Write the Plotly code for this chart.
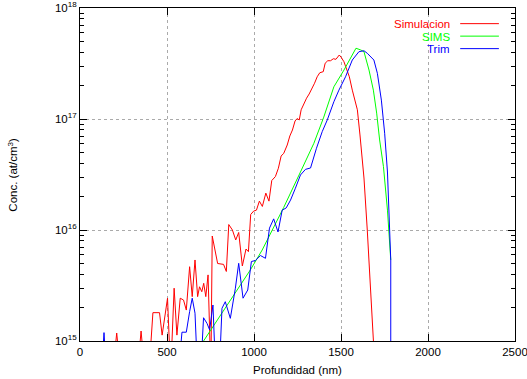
import plotly.graph_objects as go

# ---- data (depth in nm, concentration in at/cm^3) ----
sim_depth = [115, 173, 211, 248, 317, 351, 386, 419, 457, 472, 503, 521, 541, 557, 576, 595, 611,
             630, 645, 661, 676, 687, 700, 711, 723, 736, 752, 760, 791, 825, 841, 855, 876, 895,
             912, 933, 954, 968, 981, 998, 1014, 1031, 1048, 1068, 1086, 1102, 1123, 1140, 1156,
             1171, 1191, 1206, 1221, 1236, 1248, 1260, 1271, 1286, 1302, 1317, 1332, 1348, 1363,
             1378, 1398, 1409, 1424, 1440, 1456, 1471, 1490, 1501, 1517, 1532, 1548, 1565, 1578,
             1594, 1609, 1632, 1651, 1670, 1686, 1697]
sim_conc = [3e14, 3e14, 1.18e15, 3e14, 3e14, 1.23e15, 3e14, 1.80e15, 1.80e15, 1.13e15, 2.43e15, 5e14,
            2.99e15, 1.13e15, 2.43e15, 2.34e15, 1.90e15, 4.67e15, 2.51e15, 5.37e15, 2.51e15, 3.08e15,
            2.78e15, 3.31e15, 2.51e15, 3.94e15, 5e14, 8.83e15, 4.99e15, 4.9e15, 4.23e15, 1.12e16,
            1.0e16, 8.13e15, 9.5e15, 4.74e15, 6.74e15, 6.38e15, 1.38e16, 1.48e16, 1.51e16, 1.82e16,
            1.63e16, 2.15e16, 1.82e16, 2.79e16, 3.03e16, 3.60e16, 4.64e16, 4.91e16, 5.83e16, 7.03e16,
            7.96e16, 9.6e16, 1.01e17, 9.8e16, 1.21e17, 1.38e17, 1.54e17, 1.68e17, 1.85e17, 2.10e17,
            2.40e17, 2.61e17, 2.67e17, 3.18e17, 3.35e17, 3.35e17, 3.49e17, 3.45e17, 3.77e17, 3.60e17,
            3.28e17, 2.86e17, 2.40e17, 1.82e17, 1.55e17, 1.21e17, 7.18e16, 2.94e16, 1.0e16, 3.06e15,
            1.0e15, 5e14]

sims_depth = [710, 979, 1047, 1171, 1267, 1344, 1401, 1450, 1459, 1517, 1586, 1613, 1632, 1661,
              1686, 1705, 1722, 1744, 1767, 1786]
sims_conc = [1.0e15, 4.37e15, 6.6e15, 1.60e16, 3.33e16, 6.04e16, 1.04e17, 1.82e17, 1.95e17, 2.76e17,
             4.34e17, 4.19e17, 4.04e17, 2.76e17, 1.82e17, 1.13e17, 6.47e16, 3.72e16, 1.51e16, 5.37e15]

trim_depth = [115, 138, 161, 565, 586, 611, 630, 645, 661, 676, 693, 710, 730, 745, 764, 780, 800,
              816, 835, 864, 893, 912, 937, 964, 985, 1008, 1037, 1066, 1089, 1113, 1138, 1162,
              1185, 1210, 1238, 1267, 1296, 1325, 1359, 1392, 1421, 1459, 1488, 1526, 1565, 1603,
              1632, 1651, 1689, 1709, 1732, 1751, 1767, 1782, 1786, 1786]
trim_conc = [3e14, 1.19e15, 3e14, 5e14, 1.20e15, 1.20e15, 1.84e15, 2.43e15, 1.78e15, 5e14, 5e14,
             1.62e15, 1.44e15, 1.26e15, 2.11e15, 5e14, 5e14, 1.97e15, 2.26e15, 1.60e15, 2.99e15,
             5.01e15, 2.43e15, 2.88e15, 5.20e15, 5.31e15, 5.89e15, 5.56e15, 1.04e16, 1.26e16, 9.6e15,
             1.51e16, 1.58e16, 1.86e16, 2.38e16, 3.13e16, 3.52e16, 3.62e16, 5.45e16, 7.69e16, 9.8e16,
             1.43e17, 1.82e17, 2.40e17, 3.40e17, 4.04e17, 4.12e17, 3.91e17, 3.40e17, 2.58e17,
             1.48e17, 7.44e16, 3.33e16, 9.4e15, 5.37e15, 1e14]

series_names = ["Simulacion", "SIMS", "Trim"]
series_colors = ["#ff0000", "#00ff00", "#0000ff"]
x_ticks = [0, 500, 1000, 1500, 2000, 2500]
y_decades = [1e15, 1e16, 1e17, 1e18]
y_labels = ["10<sup>15</sup>", "10<sup>16</sup>", "10<sup>17</sup>", "10<sup>18</sup>"]
y_minor = [m * d for d in [1e15, 1e16, 1e17] for m in range(2, 10)]

FONT = "Liberation Sans, Arial, sans-serif"

fig = go.Figure()
for name, xs, ys, col in zip(series_names, [sim_depth, sims_depth, trim_depth],
                             [sim_conc, sims_conc, trim_conc], series_colors):
    fig.add_trace(go.Scatter(x=xs, y=ys, mode="lines", name=name,
                             line=dict(color=col, width=1), showlegend=False))

# manual gnuplot-style legend (text, then sample line on the right)
for i, (name, col) in enumerate(zip(series_names, series_colors)):
    yp = 0.953 - i * 0.0375
    fig.add_annotation(xref="paper", yref="paper", x=0.856, y=yp, text=name,
                       showarrow=False, xanchor="right", yanchor="middle", height=11,
                       font=dict(family=FONT, size=11.5, color=col))
    fig.add_shape(type="line", xref="paper", yref="paper", x0=0.874, x1=0.963, y0=yp, y1=yp,
                  line=dict(color=col, width=1))

# axis titles
fig.add_annotation(xref="paper", yref="paper", x=0.499, y=-0.087, text="Profundidad (nm)",
                   showarrow=False, xanchor="center", yanchor="middle",
                   font=dict(family=FONT, size=11.5, color="black"))
fig.add_annotation(xref="paper", yref="paper", x=-0.156, y=0.5, text="Conc. (at/cm<sup>3</sup>)",
                   showarrow=False, xanchor="center", yanchor="middle", textangle=-90,
                   font=dict(family=FONT, size=11.5, color="black"))

axis_common = dict(showline=True, linecolor="black", linewidth=1, mirror="ticks",
                   ticks="inside", tickcolor="black", showgrid=True, gridcolor="#aaaaaa",
                   griddash="dot", gridwidth=1, zeroline=False, automargin=False,
                   ticklabeloverflow="allow",
                   tickfont=dict(family=FONT, size=11.5, color="black"))

fig.update_xaxes(range=[0, 2500], tickvals=x_ticks, ticklen=7, **axis_common)
fig.update_yaxes(type="log", range=[15, 18], tickvals=y_decades, ticktext=y_labels, ticklen=7,
                 minor=dict(ticks="inside", ticklen=4, tickvals=y_minor, tickcolor="black",
                            showgrid=False),
                 **axis_common)

fig.update_layout(width=527, height=379, margin=dict(l=80, r=12, t=8, b=38),
                  plot_bgcolor="white", paper_bgcolor="white",
                  font=dict(family=FONT, size=11.5, color="black"))

fig.write_html("out.html", config={"displayModeBar": False},
               post_script="document.body.style.margin='0';")
